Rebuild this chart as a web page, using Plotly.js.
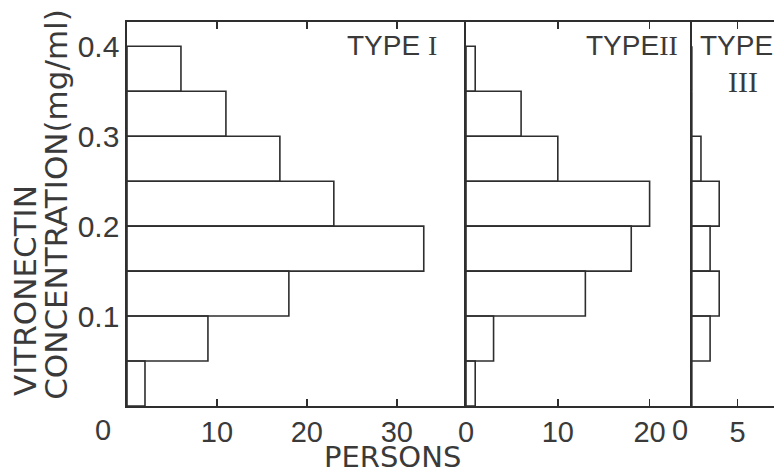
<!DOCTYPE html>
<html>
<head>
<meta charset="utf-8">
<script src="https://cdn.plot.ly/plotly-3.0.1.min.js"></script>
<style>html,body{margin:0;padding:0;background:#fff;}</style>
</head>
<body>
<div id="chart" style="width:774px;height:474px;"></div>
<script>
// Bin centres of vitronectin concentration (mg/ml), bins 0.05 wide
const binCenters = [0.025, 0.075, 0.125, 0.175, 0.225, 0.275, 0.325, 0.375];
const binWidth = 0.05;
// Persons per bin, bottom to top
const typeI   = [2, 9, 18, 33, 23, 17, 11, 6];
const typeII  = [1, 3, 13, 18, 20, 10, 6, 1];
const typeIII = [0, 2, 3, 2, 3, 1, 0, 0];

const yTickVals = [0.1, 0.2, 0.3, 0.4];
const yTickText = ['0.1', '0.2', '0.3', '0.4'];
const x1Ticks = [0, 10, 20, 30];
const x2Ticks = [0, 10, 20];
const x3Ticks = [0, 5];

const ink = '#2e2e2e';
const txt = '#3a3a3a';
const font = 'Liberation Sans, Arial, sans-serif';
const wide = 'DejaVu Sans, sans-serif';
const serif = 'Liberation Serif, serif';

function barTrace(vals, xa, ya) {
  return {
    type: 'bar', orientation: 'h',
    y: binCenters, x: vals, width: binWidth,
    xaxis: xa, yaxis: ya,
    marker: {color: 'rgba(255,255,255,0)', line: {color: ink, width: 1.6}},
    hoverinfo: 'skip', showlegend: false
  };
}

function xAxis(domain, range, ticks, labels, anchor) {
  return {
    domain: domain, range: range, anchor: anchor,
    tickvals: ticks, ticktext: labels,
    ticks: 'inside', ticklen: 7, tickcolor: ink, tickwidth: 1.5,
    showline: true, linecolor: ink, linewidth: 1.6, mirror: 'ticks',
    showgrid: false, zeroline: false,
    tickfont: {family: font, size: 29, color: txt},
    ticklabelstandoff: 0
  };
}

function yAxis(anchor, labels) {
  return {
    anchor: anchor, domain: [0, 1], range: [0, 0.427],
    tickvals: yTickVals, ticktext: yTickText, showticklabels: labels,
    ticks: '',
    showline: true, linecolor: ink, linewidth: 1.6, mirror: false,
    showgrid: false, zeroline: false,
    tickfont: {family: font, size: 30, color: txt}
  };
}

const data = [
  barTrace(typeI, 'x', 'y'),
  barTrace(typeII, 'x2', 'y2'),
  barTrace(typeIII, 'x3', 'y3')
];

function ann(text, x, y, size, fam, extra) {
  return Object.assign({
    text: text, xref: 'paper', yref: 'paper', x: x, y: y,
    xanchor: 'center', yanchor: 'middle', showarrow: false,
    font: {family: fam, size: size, color: txt}
  }, extra || {});
}

const layout = {
  width: 774, height: 474,
  margin: {l: 127, r: 0, t: 22, b: 68},
  paper_bgcolor: '#ffffff', plot_bgcolor: 'rgba(0,0,0,0)',
  bargap: 0,
  xaxis: xAxis([0, 0.524], [0, 37.7], x1Ticks, ['', '10', '20', '30'], 'y'),
  xaxis2: xAxis([0.524, 0.873], [0, 24.6], x2Ticks, ['0', '10', '20'], 'y2'),
  xaxis3: xAxis([0.873, 1], [0, 9.0], x3Ticks, ['', '5'], 'y3'),
  yaxis: yAxis('x', true),
  yaxis2: yAxis('x2', false),
  yaxis3: yAxis('x3', false),
  annotations: [
    ann('TYPE <span style="font-family:Liberation Serif">I</span>', 0.41, 0.94, 28, font),
    ann('TYPE<span style="font-family:Liberation Serif">II</span>', 0.781, 0.94, 28, font),
    ann('TYPE', 0.8825, 0.94, 28, font, {xanchor: 'left'}),
    ann('III', 0.9521, 0.846, 30, serif),
    ann('PERSONS', 0.41, -0.133, 29, wide),
    ann('0', -0.037, -0.062, 29, font),
    ann('0', 0.855, -0.062, 29, font),
    ann('VITRONECTIN', -0.1577, 0.022, 31, wide, {yanchor: 'bottom', textangle: -90}),
    ann('CONCENTRATION(mg/ml)', -0.1098, 0.012, 31, wide, {yanchor: 'bottom', textangle: -90})
  ]
};

Plotly.newPlot('chart', data, layout, {displayModeBar: false, staticPlot: true});
</script>
</body>
</html>
